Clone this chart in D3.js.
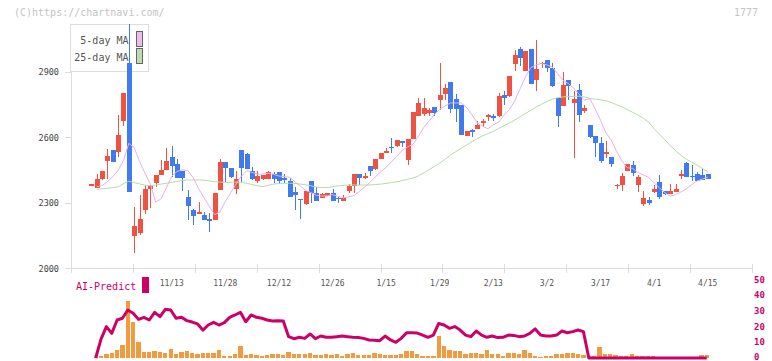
<!DOCTYPE html>
<html>
<head>
<meta charset="utf-8">
<script src="https://cdn.jsdelivr.net/npm/d3@7"></script>
<style>
body { margin: 0; background: #fff; }
svg text { font-family: "DejaVu Sans Mono", monospace; }
</style>
</head>
<body>
<svg width="772" height="361"></svg>
<script>
// trading days shown on the chart
var dates = ["10/22","10/23","10/24","10/27","10/28","10/29","10/30","10/31","11/4","11/5","11/6","11/7","11/10","11/11","11/12",
  "11/13","11/14","11/17","11/18","11/19","11/20","11/21","11/25","11/26","11/27","11/28",
  "12/1","12/2","12/3","12/4","12/5","12/8","12/9","12/10","12/11","12/12",
  "12/15","12/16","12/17","12/18","12/19","12/22","12/23","12/24","12/25","12/26",
  "12/29","12/30","1/5","1/6","1/7","1/8","1/9","1/13","1/14","1/15",
  "1/16","1/19","1/20","1/21","1/22","1/23","1/26","1/27","1/28","1/29",
  "1/30","2/2","2/3","2/4","2/5","2/6","2/9","2/10","2/12","2/13",
  "2/16","2/17","2/18","2/19","2/20","2/24","2/25","2/26","2/27","3/2",
  "3/3","3/4","3/5","3/6","3/9","3/10","3/11","3/12","3/13","3/17",
  "3/18","3/19","3/23","3/24","3/25","3/26","3/27","3/30","3/31","4/1",
  "4/2","4/3","4/6","4/7","4/8","4/9","4/10","4/13","4/14","4/15"]

var open = [2385,2370,2409,2493,2542,2534,2676,2942,2150,2163,
  2267,2362,2392,2428,2450,2510,2476,2446,2328,2267,
  2249,2244,2226,2221,2359,2486,2460,2363,2542,2524,
  2446,2400,2409,2411,2432,2440,2414,2400,2350,2318,
  2295,2400,2344,2324,2331,2347,2324,2310,2356,2379,
  2432,2414,2469,2455,2501,2530,2557,2560,2583,2496,
  2591,2699,2707,2713,2738,2771,2799,2855,2774,2748,
  2608,2634,2638,2672,2696,2699,2698,2794,2789,2935,
  3005,2906,3005,2863,2939,2954,2916,2779,2745,2863,
  2756,2817,2721,2657,2606,2573,2530,2512,2379,2383,
  2447,2473,2383,2296,2313,2350,2397,2354,2342,2350,
  2425,2484,2425,2431,2428,2432]
var high = [2386,2432,2446,2547,2542,2702,2805,3120,2283,2336,
  2382,2382,2428,2496,2553,2560,2501,2446,2359,2272,
  2302,2257,2252,2344,2501,2486,2460,2446,2542,2530,
  2466,2446,2428,2446,2443,2440,2431,2412,2374,2318,
  2353,2400,2374,2345,2347,2362,2331,2334,2385,2432,
  2432,2435,2469,2501,2530,2550,2596,2588,2583,2592,
  2715,2782,2782,2733,2738,2942,2847,2855,2799,2748,
  2629,2638,2675,2684,2706,2706,2805,2812,2881,3003,
  3015,2996,3005,3046,2947,2954,2939,2779,2898,2863,
  2814,2845,2748,2657,2606,2600,2585,2512,2386,2435,
  2478,2492,2428,2354,2325,2382,2428,2354,2386,2386,
  2450,2486,2475,2443,2455,2432]
var low = [2384,2370,2405,2409,2489,2512,2652,2351,2069,2153,
  2247,2275,2374,2428,2450,2420,2412,2356,2221,2198,
  2249,2221,2168,2221,2359,2397,2412,2341,2397,2455,
  2405,2389,2405,2408,2389,2386,2389,2328,2267,2226,
  2290,2298,2308,2324,2331,2310,2301,2310,2347,2347,
  2382,2409,2425,2450,2501,2527,2527,2557,2557,2473,
  2591,2699,2699,2699,2699,2728,2771,2710,2672,2611,
  2608,2603,2638,2646,2675,2675,2695,2748,2786,2904,
  2928,2906,2847,2814,2916,2898,2832,2649,2745,2771,
  2504,2672,2713,2596,2512,2481,2504,2466,2365,2356,
  2447,2425,2351,2287,2292,2344,2319,2336,2342,2350,
  2411,2420,2402,2402,2405,2409]
var close = [2385,2409,2446,2515,2489,2611,2805,2351,2194,2226,
  2363,2379,2428,2450,2492,2470,2415,2415,2287,2241,
  2260,2221,2223,2344,2486,2458,2420,2408,2461,2455,
  2409,2425,2428,2440,2411,2402,2405,2328,2337,2312,
  2353,2347,2308,2339,2344,2310,2316,2324,2377,2432,
  2412,2425,2447,2501,2530,2537,2550,2588,2573,2592,
  2715,2756,2733,2728,2712,2793,2826,2730,2730,2611,
  2629,2629,2657,2675,2701,2687,2789,2783,2881,2977,
  2962,2996,2847,2913,2942,2919,2837,2698,2840,2837,
  2776,2702,2736,2603,2576,2493,2533,2476,2382,2423,
  2478,2438,2418,2324,2301,2363,2328,2341,2354,2363,
  2432,2420,2420,2402,2405,2409]

var ma5 = [null,2374,2379,2397,2420,2449,2494,2573,2554,2490,
  2437,2388,2303,2318,2369,2422,2444,2451,2448,2416,
  2366,2324,2285,2246,2258,2307,2346,2386,2423,2447,
  2440,2431,2432,2436,2431,2423,2421,2417,2397,2377,
  2357,2347,2335,2331,2332,2338,2330,2323,2327,2334,
  2352,2372,2394,2419,2443,2463,2488,2513,2541,2556,
  2568,2604,2645,2674,2705,2729,2744,2758,2758,2758,
  2738,2705,2666,2651,2640,2658,2670,2702,2727,2768,
  2823,2878,2920,2933,2939,2932,2923,2892,2862,2847,
  2826,2798,2771,2778,2731,2679,2622,2588,2536,2492,
  2461,2458,2439,2428,2416,2392,2369,2347,2331,2337,
  2350,2364,2384,2400,2409,2418]
var ma25 = [null,2362,2364,2367,2370,2374,2388,2399,2393,2387,
  2381,2379,2382,2386,2390,2394,2398,2403,2405,2405,
  2405,2404,2400,2397,2395,2394,2394,2395,2394,2390,
  2384,2378,2374,2380,2386,2389,2390,2390,2389,2386,
  2383,2378,2372,2370,2371,2374,2378,2380,2382,2382,
  2382,2382,2382,2384,2386,2389,2393,2397,2402,2408,
  2414,2423,2437,2452,2467,2482,2500,2518,2535,2550,
  2565,2580,2595,2607,2618,2628,2641,2654,2666,2680,
  2695,2710,2724,2740,2752,2765,2775,2782,2786,2787,
  2788,2789,2786,2779,2776,2773,2768,2760,2750,2740,
  2728,2715,2702,2687,2670,2640,2615,2590,2562,2540,
  2518,2500,2487,2473,2458,2443]

// lower panel
var aiPredict = [null,0,12,20,15.7,24.2,25.3,30.6,28.5,24.6,
  25.9,24.2,29.1,26.3,31.0,30.6,25.3,25.9,23.8,22.9,
  21.7,17.8,21.0,22.7,21.0,22.5,25.9,27.4,29.1,23.1,
  27.4,25.9,25.3,24.2,23.6,23.8,23.6,13.6,12.3,13.2,
  12.5,15.3,12.3,14.0,13.2,13.2,13.6,14.0,13.6,13.2,
  13.0,12.5,11.5,11.3,11.0,14.0,11.5,10.0,12.5,16.1,
  16.1,15.9,14.6,13.2,14.6,22.0,21.0,18.9,20.0,17.8,
  14.6,13.6,17.2,14.6,13.2,14.0,13.0,13.2,14.6,14.4,
  13.6,14.0,15.7,18.5,14.6,14.0,14.0,14.6,17.2,16.1,
  16.8,17.8,16.8,0,0,0,0,0,0,0,
  0,0,0,0,0,0,0,0,0,0,
  0,0,0,0,0,0]
var aiBars = [0,0.5,1.5,2.5,3,5,8,36,23,10,
  4,4,4.5,4,3.5,6,2.5,4,4.5,3.5,
  2.5,3,3,3,5.3,1.1,1.1,2.5,7.4,1.7,
  2.5,2,1.1,1.7,2.5,2.5,1.7,3.6,2.5,2.5,
  2.5,3.2,2.1,1.7,2.5,1.7,2.5,1.1,2.5,3.2,
  1.7,1.7,1.7,3.2,2.5,1.7,2.1,1.7,2.5,4.7,
  4.2,2.5,1.3,1.0,1.3,14,7.6,5.1,4.5,4.7,
  2.5,3,3.4,2.5,5.1,2.5,2.5,1.3,3,3,
  2.5,5.1,3,1.3,0.8,1.3,1.3,2.5,2.5,3.4,
  3,2.5,1.9,1,1,7.2,2.3,2.3,1.9,1.5,
  1.5,2.3,1.5,1.5,1.5,1.5,0,0,0,0,
  0,0,0,0,1.7,2.1]

var priceTicks = [2000, 2300, 2600, 2900]
var dateLabels = ["11/13","11/28","12/12","12/26","1/15","1/29","2/13","3/2","3/17","4/1","4/15"]
var aiTicks = [0, 10, 20, 30, 40, 50]

var upColor = '#ef5240', downColor = '#3f7aee'
var aiColor = '#cc0066'

var svg = d3.select('svg')

var x = d3.scaleLinear().domain([-3.787, 123.26]).range([71, 752])
var y = d3.scaleLinear().domain([2000, 3120]).range([268.3, 24])
var yB = d3.scaleLinear().domain([0, 50]).range([358, 279.5])
var grid = d3.scaleLinear().domain([0, 11]).range([71, 752])

svg.append('clipPath').attr('id', 'plot')
  .append('rect').attr('x', 71).attr('y', 24).attr('width', 681).attr('height', 245)

// header
svg.append('text').attr('x', 14).attr('y', 16).attr('font-size', 10).attr('fill', '#c4c4c4')
  .text('(C)https://chartnavi.com/')
svg.append('text').attr('x', 758).attr('y', 16).attr('font-size', 10).attr('fill', '#c4c4c4')
  .attr('text-anchor', 'end').text('1777')

// y axis
var yAxis = svg.append('g').attr('transform', 'translate(71,0)')
  .call(d3.axisLeft(y).tickValues(priceTicks).tickFormat(d3.format('d'))
    .tickSizeInner(6).tickSizeOuter(0).tickPadding(6))
yAxis.selectAll('path, line').attr('stroke', '#dddddd').attr('shape-rendering', 'crispEdges')
yAxis.selectAll('text').attr('font-size', 8.5).attr('fill', '#444')
  .style('font-family', '"DejaVu Sans Mono", monospace')

// bottom line + grid ticks
svg.append('line').attr('x1', 65).attr('x2', 752).attr('y1', 268.5).attr('y2', 268.5)
  .attr('stroke', '#dddddd')
var xAxis = svg.append('g').attr('transform', 'translate(0,264)')
  .call(d3.axisBottom(grid).tickValues(d3.range(12)).tickFormat('').tickSizeInner(9).tickSizeOuter(0))
xAxis.select('.domain').remove()
xAxis.selectAll('line').attr('stroke', '#dddddd').attr('shape-rendering', 'crispEdges')

// legend (sits under the candles)
var legend = svg.append('g')
legend.append('rect').attr('x', 70.5).attr('y', 24.5).attr('width', 78).attr('height', 47)
  .attr('fill', '#fff').attr('stroke', '#dddddd')
var legendItems = [['5-day MA', '#ecbcec'], ['25-day MA', '#bcdcb0']]
legendItems.forEach(function(d, i) {
  legend.append('text').attr('x', 128.5).attr('y', 43.5 + i * 17).attr('text-anchor', 'end')
    .attr('font-size', 10).attr('fill', '#555').text(d[0])
  legend.append('rect').attr('x', 136.5).attr('y', 31.5 + i * 17).attr('width', 6).attr('height', 15)
    .attr('fill', d[1]).attr('stroke', '#666')
})

// candles
var plot = svg.append('g').attr('clip-path', 'url(#plot)')
var idx = d3.range(dates.length)
var candle = plot.selectAll('g.candle').data(idx).enter().append('g')
  .attr('fill', function(i) { return close[i] >= open[i] ? upColor : downColor })
  .attr('shape-rendering', 'crispEdges')
candle.append('rect')
  .attr('x', function(i) { return Math.round(x(i)) })
  .attr('width', 1)
  .attr('y', function(i) { return y(high[i]) })
  .attr('height', function(i) { return Math.max(1, y(low[i]) - y(high[i])) })
candle.append('rect')
  .attr('x', function(i) { return Math.round(x(i)) - 2 })
  .attr('width', 5)
  .attr('y', function(i) { return y(Math.max(open[i], close[i])) })
  .attr('height', function(i) { return Math.max(1.5, Math.abs(y(open[i]) - y(close[i]))) })

// moving averages
function maLine(arr) {
  return d3.line()
    .defined(function(i) { return arr[i] != null })
    .x(function(i) { return x(i) })
    .y(function(i) { return y(arr[i]) })(idx)
}
plot.append('path').attr('d', maLine(ma25)).attr('fill', 'none').attr('stroke', '#b4dca6').attr('stroke-width', 1)
plot.append('path').attr('d', maLine(ma5)).attr('fill', 'none').attr('stroke', '#e8b0e8').attr('stroke-width', 1)

// date labels
svg.selectAll('text.date').data(dateLabels).enter().append('text')
  .attr('x', function(d) { return x(dates.indexOf(d)) })
  .attr('y', 285.5).attr('text-anchor', 'middle')
  .attr('font-size', 8).attr('fill', '#555').text(function(d) { return d })

// AI-Predict panel
svg.append('text').attr('x', 76).attr('y', 289.5).attr('font-size', 10).attr('fill', aiColor).text('AI-Predict')
svg.append('rect').attr('x', 142).attr('y', 277).attr('width', 7).attr('height', 16).attr('fill', aiColor)

svg.selectAll('rect.bar').data(idx.filter(function(i) { return aiBars[i] > 0 })).enter().append('rect')
  .attr('x', function(i) { return x(i) - 1 - 2.15 })
  .attr('width', 4.3)
  .attr('y', function(i) { return yB(aiBars[i]) })
  .attr('height', function(i) { return yB(0) - yB(aiBars[i]) })
  .attr('fill', '#f29a3e')
  .attr('shape-rendering', 'crispEdges')

svg.append('path')
  .attr('d', d3.line()
    .defined(function(i) { return aiPredict[i] != null })
    .x(function(i) { return x(i) - 1 })
    .y(function(i) { return yB(aiPredict[i]) })(idx))
  .attr('fill', 'none').attr('stroke', aiColor).attr('stroke-width', 3).attr('stroke-linejoin', 'round')

svg.selectAll('text.ai').data(aiTicks).enter().append('text')
  .attr('x', 754).attr('y', function(d) { return Math.min(yB(d) + 3, 360) })
  .attr('font-size', 9).attr('font-weight', 'bold').attr('fill', aiColor)
  .text(function(d) { return d })
</script>
</body>
</html>
